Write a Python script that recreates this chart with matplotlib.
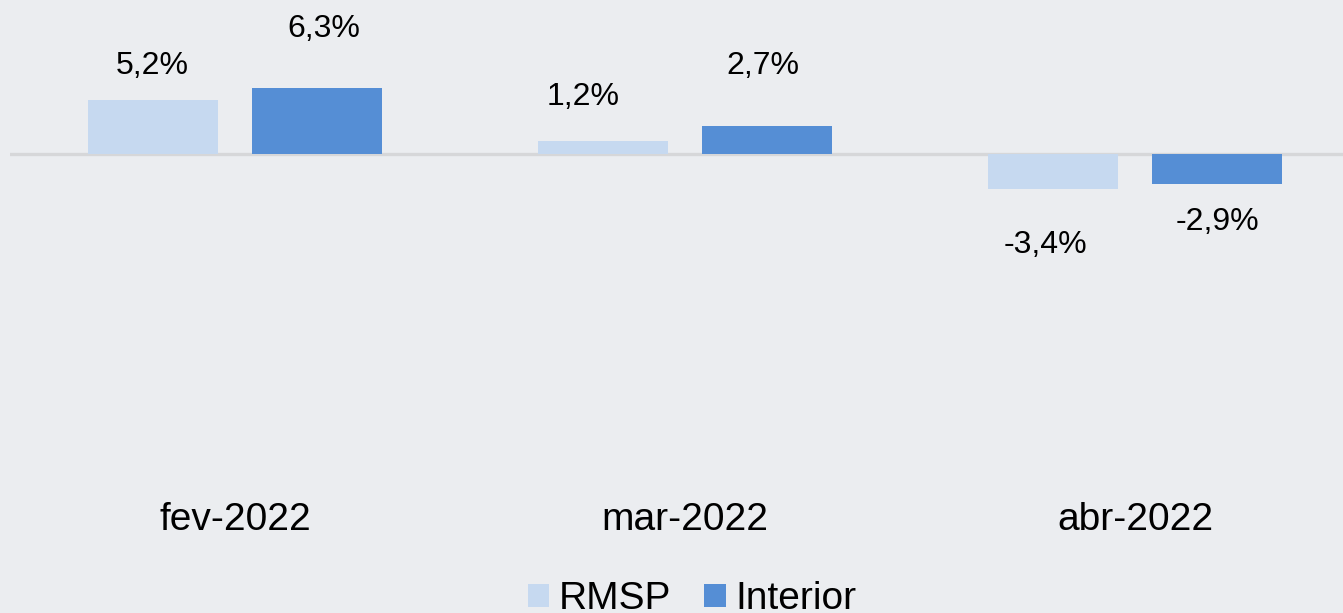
import numpy as np
import matplotlib.pyplot as plt

plt.rcParams['font.family'] = ['Liberation Sans', 'DejaVu Sans']

categories = ['fev-2022', 'mar-2022', 'abr-2022']
rmsp = [5.2, 1.2, -3.4]
interior = [6.3, 2.7, -2.9]
rmsp_labels = ['5,2%', '1,2%', '-3,4%']
interior_labels = ['6,3%', '2,7%', '-2,9%']

# label offsets in points (excel placed them a bit unevenly)
rmsp_off = [(0, 24), (-14, 32), (-5, -40)]
interior_off = [(5, 43), (-3, 43), (0, -27)]

bg = '#ebedf0'
c_rmsp = '#c6d9f0'
c_int = '#558ed5'

fig = plt.figure(figsize=(13.43, 6.13), dpi=100, facecolor=bg)
ax = fig.add_axes([10 / 1343, 1 - 470 / 613, 1350 / 1343, 470 / 613])
ax.set_facecolor(bg)

x = np.arange(len(categories))
w = 0.289
off = 0.183
b1 = ax.bar(x - off, rmsp, w, color=c_rmsp, label='RMSP', zorder=2)
b2 = ax.bar(x + off, interior, w, color=c_int, label='Interior', zorder=2)

ax.axhline(0, color='#d6d7d9', lw=2.4, zorder=1)

for i in range(len(categories)):
    ax.annotate(rmsp_labels[i], (x[i] - off, rmsp[i]), xytext=rmsp_off[i],
                textcoords='offset points', ha='center', va='center', fontsize=23)
    ax.annotate(interior_labels[i], (x[i] + off, interior[i]), xytext=interior_off[i],
                textcoords='offset points', ha='center', va='center', fontsize=23)

ax.set_xlim(-0.5, 2.5)
ax.set_ylim(-30.4, 14.8)
ax.set_xticks(x)
ax.set_xticklabels(categories, fontsize=28)
ax.tick_params(axis='x', length=0, pad=23)
ax.set_yticks([])
for s in ax.spines.values():
    s.set_visible(False)

fig.legend(handles=[b1, b2], loc='center', bbox_to_anchor=(692 / 1343, 1 - 599 / 613),
           ncol=2, frameon=False, fontsize=28, handlelength=0.55, handleheight=0.55,
           handletextpad=0.25, columnspacing=0.85)

fig.savefig('out.png', dpi=100, facecolor=bg)
